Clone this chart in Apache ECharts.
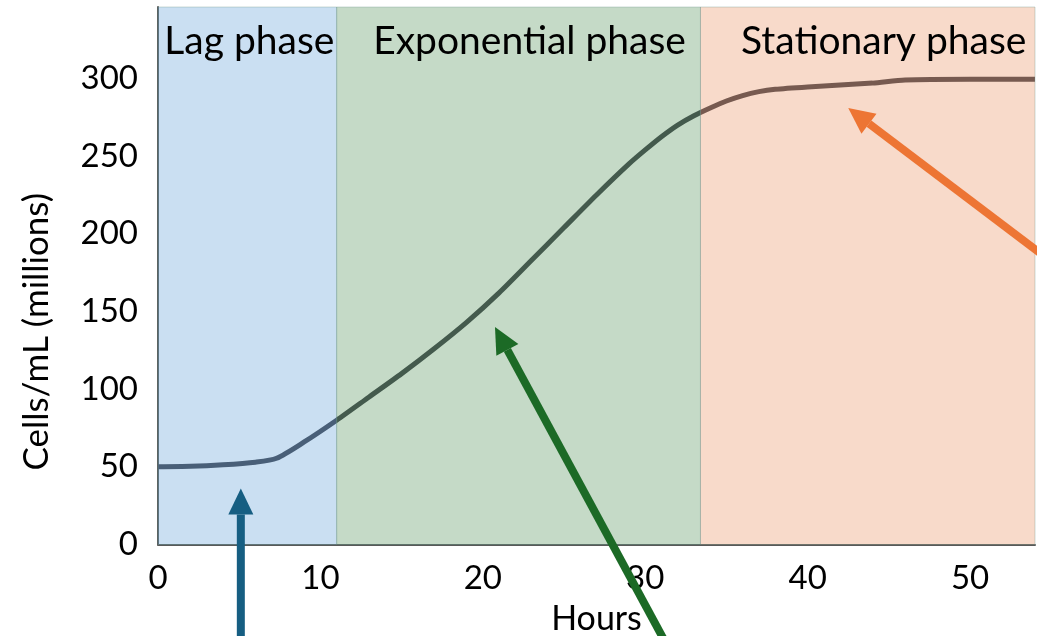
<!DOCTYPE html>
<html>
<head>
<meta charset="utf-8">
<script src="https://cdn.jsdelivr.net/npm/echarts@6/dist/echarts.min.js"></script>
<style>html,body{margin:0;padding:0;background:#fff;}#c{width:1037px;height:636px;}</style>
</head>
<body>
<div id="c"></div>
<script>
// Growth curve: [hours, cells/mL (millions)]
const growthHours = [0, 2, 4, 6, 7.3, 9, 11, 13, 15, 17, 19, 21, 23, 25, 27, 29, 30, 31, 32, 33, 34, 35, 36, 37, 38, 40, 44, 46, 50, 54];
const growthCells = [50, 50.3, 51.3, 53, 55.5, 66, 80, 95, 110, 126, 143, 162, 183, 204, 225, 245, 254, 262.5, 270, 276, 281, 285.5, 289, 291.5, 293, 294.5, 297, 299, 299.5, 299.5];

// Phases: name, start hour, end hour
const phaseNames = ['Lag phase', 'Exponential phase', 'Stationary phase'];
const phaseStart = [0, 11, 33.4];
const phaseEnd = [11, 33.4, 54];

// Annotation arrows in data coordinates: [tailHour, tailCells, tipHour, tipCells]
const arrowBlue = [5.1, -70, 5.1, 36];
const arrowGreen = [31.5, -68, 20.75, 140];
const arrowOrange = [54.9, 183, 42.5, 281];

const xTicks = [0, 10, 20, 30, 40, 50];
const yTicks = [0, 50, 100, 150, 200, 250, 300];

const FONT = 'Lato';
const phaseColors = ['rgba(94,158,216,0.33)', 'rgba(79,143,84,0.33)', 'rgba(233,142,94,0.33)'];
const phaseLabelOffset = [2, 11, 16];
const arrowColors = ['#165e82', '#1c6a26', '#ed7534'];

const chart = echarts.init(document.getElementById('c'), null, {renderer: 'canvas'});

const lineData = growthHours.map((h, i) => [h, growthCells[i]]);
const areas = phaseNames.map((n, i) => [
  {xAxis: phaseStart[i], name: n, itemStyle: {color: phaseColors[i]},
   label: {offset: [phaseLabelOffset[i], 0]}},
  {xAxis: phaseEnd[i]}
]);
const arrows = [arrowBlue, arrowGreen, arrowOrange].map((a, i) => [a[0], a[1], a[2], a[3], i]);

chart.setOption({
  animation: false,
  grid: {left: 158, right: 2, top: 7, bottom: 91.5, containLabel: false, outerBoundsMode: 'none'},
  xAxis: {
    type: 'value', min: 0, max: 54, interval: 10,
    name: 'Hours', nameLocation: 'middle', nameGap: 58,
    nameTextStyle: {fontFamily: FONT, fontSize: 34, color: '#000'},
    axisLine: {lineStyle: {color: '#595959', width: 2}},
    axisTick: {show: false},
    splitLine: {show: false},
    axisLabel: {fontFamily: FONT, fontSize: 33, color: '#000', margin: 17, showMaxLabel: false,
      formatter: v => xTicks.includes(v) ? String(v) : ''}
  },
  yAxis: {
    type: 'value', min: 0, max: 346, interval: 50,
    name: 'Cells/mL (millions)', nameLocation: 'middle', nameGap: 104,
    nameTextStyle: {fontFamily: FONT, fontSize: 35, color: '#000', padding: [0, 112, 0, 0]},
    axisLine: {show: true, lineStyle: {color: '#595959', width: 2}},
    axisTick: {show: false},
    splitLine: {show: false},
    axisLabel: {fontFamily: FONT, fontSize: 33, color: '#000', margin: 20, showMaxLabel: false,
      formatter: v => yTicks.includes(v) ? String(v) : ''}
  },
  series: [
    {
      type: 'line', data: lineData, smooth: 0.25, symbol: 'none', z: 2,
      lineStyle: {color: '#3f414a', width: 5}
    },
    {
      type: 'line', data: [], z: 3, silent: true,
      markArea: {
        silent: true, z: 5,
        itemStyle: {borderWidth: 1, borderColor: 'rgba(110,150,140,0.35)'},
        label: {show: true, position: 'insideTop', distance: 15, fontFamily: FONT, fontSize: 39, color: '#000'},
        data: areas
      }
    },
    {
      type: 'custom', z: 10, clip: false, silent: true,
      data: arrows,
      encode: {x: [0, 2], y: [1, 3]},
      renderItem: function (params, api) {
        const t = api.coord([api.value(0), api.value(1)]);
        const p = api.coord([api.value(2), api.value(3)]);
        const col = arrowColors[api.value(4)];
        const dx = p[0] - t[0], dy = p[1] - t[1];
        const len = Math.sqrt(dx * dx + dy * dy);
        const ux = dx / len, uy = dy / len;
        const nx = -uy, ny = ux;
        const headLen = 26, headHalf = 12.5, shaftHalf = 4;
        const bx = p[0] - ux * headLen, by = p[1] - uy * headLen;
        return {
          type: 'group',
          children: [
            {type: 'polygon', shape: {points: [
              [t[0] + nx * shaftHalf, t[1] + ny * shaftHalf],
              [bx + nx * shaftHalf, by + ny * shaftHalf],
              [bx - nx * shaftHalf, by - ny * shaftHalf],
              [t[0] - nx * shaftHalf, t[1] - ny * shaftHalf]
            ]}, style: {fill: col}},
            {type: 'polygon', shape: {points: [
              [p[0], p[1]],
              [bx + nx * headHalf, by + ny * headHalf],
              [bx - nx * headHalf, by - ny * headHalf]
            ]}, style: {fill: col}}
          ]
        };
      }
    }
  ]
});
</script>
</body>
</html>
